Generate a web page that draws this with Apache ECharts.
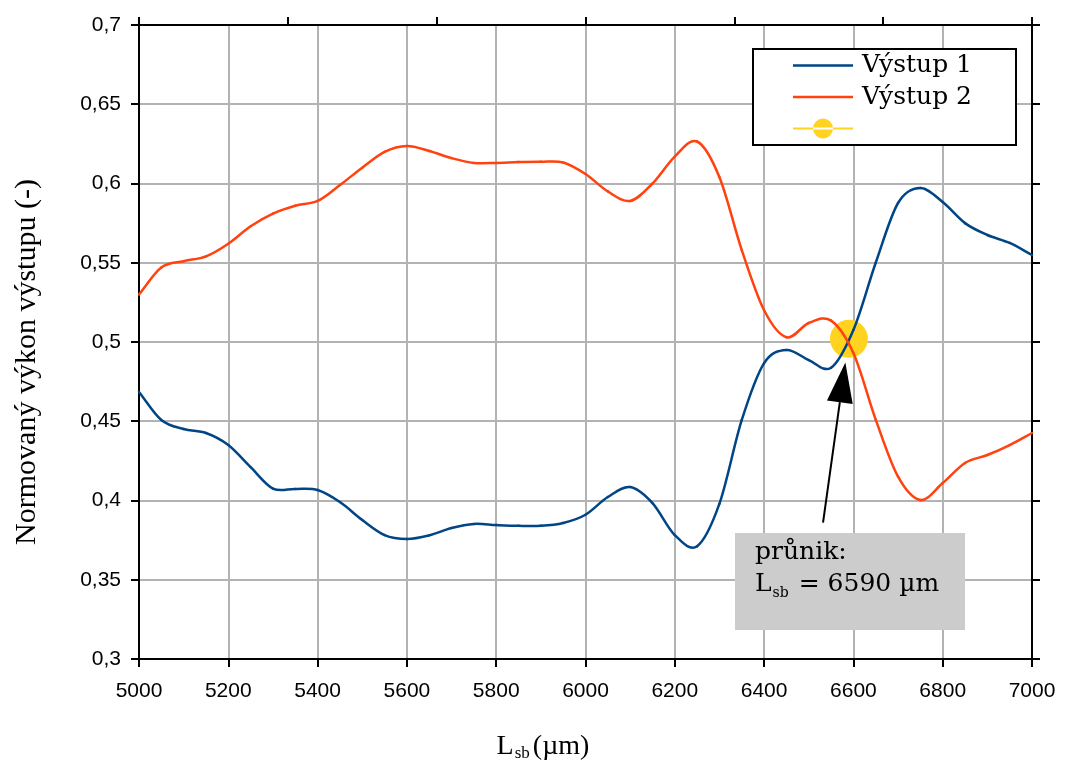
<!DOCTYPE html>
<html>
<head>
<meta charset="utf-8">
<script src="https://cdn.jsdelivr.net/npm/echarts@6/dist/echarts.min.js"></script>
<style>html,body{margin:0;padding:0;background:#fff}#c{width:1065px;height:767px}</style>
</head>
<body>
<div id="c"></div>
<script>
// ---- data ----
const seriesNames = ['Výstup 1', 'Výstup 2', ' '];
const xValues = [5000,5050,5100,5150,5200,5250,5300,5350,5400,5450,5500,5550,5600,5650,5700,5750,5800,5850,5900,5950,6000,6050,6100,6150,6200,6250,6300,6350,6400,6450,6500,6550,6600,6650,6700,6750,6800,6850,6900,6950,7000];
const vystup1 = [0.4685,0.4508,0.4451,0.4426,0.435,0.421,0.4075,0.4073,0.4066,0.399,0.3877,0.3782,0.3757,0.378,0.3826,0.3852,0.3845,0.384,0.384,0.3858,0.391,0.4022,0.4085,0.3984,0.3782,0.3712,0.398,0.4508,0.4867,0.495,0.4886,0.4838,0.5076,0.55,0.5877,0.5972,0.5883,0.575,0.5675,0.5625,0.5549];
const vystup2 = [0.530,0.547,0.551,0.554,0.562,0.573,0.581,0.586,0.589,0.599,0.610,0.620,0.6237,0.6205,0.616,0.613,0.613,0.6135,0.6137,0.6133,0.606,0.595,0.589,0.600,0.617,0.6265,0.604,0.558,0.520,0.503,0.512,0.5135,0.493,0.451,0.415,0.4003,0.411,0.4237,0.4287,0.435,0.4426];
const intersection = [6590, 0.502];
const arrowFrom = [6532, 0.386];
const arrowTo = [6582, 0.487];
const xTicks = {min: 5000, max: 7000, interval: 200};
const yTicks = {min: 0.3, max: 0.7, interval: 0.05};

const chart = echarts.init(document.getElementById('c'), null, {renderer: 'canvas'});
const zip = (xs, ys) => xs.map((x, i) => [x, ys[i]]);
const axisLine = {show: true, onZero: false, lineStyle: {color: '#000', width: 2}};
const tick = (inside) => ({show: true, inside: inside, length: 8, lineStyle: {color: '#000', width: 2}});
// legend icons: horizontal line (bounding box padded to 60x24), and line with circle
const lineIcon = 'path://M0,0 L0.01,0 L0,0 Z M0,10.75 L60,10.75 L60,13.25 L0,13.25 Z M0,24 L0.01,24 L0,24 Z';
const dotIcon = 'path://M0,0 L0.01,0 L0,0 Z M0,11 L60,11 L60,13 L0,13 Z M20,12 A10,10 0 1,0 40,12 A10,10 0 1,0 20,12 Z M0,24 L0.01,24 L0,24 Z';

// smooth curve through the data points (cubic spline segments drawn via axis coordinates)
function splineSeries(name, xs, ys, color) {
  const n = xs.length;
  return {
    name: name, type: 'custom', coordinateSystem: 'cartesian2d',
    data: zip(xs, ys), encode: {x: 0, y: 1},
    itemStyle: {color: color}, z: 3,
    renderItem: function (params, api) {
      const i = params.dataIndex;
      if (i >= n - 1) return null;
      const P = k => api.coord([xs[k], ys[k]]);
      const p1 = P(i), p2 = P(i + 1);
      const p0 = i > 0 ? P(i - 1) : [2 * p1[0] - p2[0], 2 * p1[1] - p2[1]];
      const p3 = i + 2 < n ? P(i + 2) : [2 * p2[0] - p1[0], 2 * p2[1] - p1[1]];
      return {
        type: 'bezierCurve',
        shape: {
          x1: p1[0], y1: p1[1], x2: p2[0], y2: p2[1],
          cpx1: p1[0] + (p2[0] - p0[0]) / 6, cpy1: p1[1] + (p2[1] - p0[1]) / 6,
          cpx2: p2[0] - (p3[0] - p1[0]) / 6, cpy2: p2[1] - (p3[1] - p1[1]) / 6
        },
        style: {stroke: color, lineWidth: 2.5, fill: 'none', lineCap: 'round'}
      };
    }
  };
}

chart.setOption({
  animation: false,
  grid: {left: 139, right: 33, top: 25, bottom: 108, containLabel: false, outerBoundsMode: 'none'},
  legend: {
    orient: 'vertical', left: 753, top: 49,
    data: [
      {name: seriesNames[0], icon: lineIcon},
      {name: seriesNames[1], icon: lineIcon},
      {name: seriesNames[2], icon: dotIcon}
    ],
    itemWidth: 60, itemHeight: 24, itemGap: 6.5,
    padding: [4, 44, 4, 40],
    borderColor: '#000', borderWidth: 2, backgroundColor: '#fff',
    textStyle: {fontFamily: 'DejaVu Serif', fontSize: 25, color: '#000', padding: [0,0,0,4]}
  },
  xAxis: [{
    type: 'value', min: xTicks.min, max: xTicks.max, interval: xTicks.interval,
    position: 'bottom',
    axisLine: axisLine, axisTick: tick(false),
    axisLabel: {fontFamily: 'Liberation Sans', fontSize: 21, color: '#000', margin: 22, formatter: v => String(v)},
    splitLine: {show: true, lineStyle: {color: '#b3b3b3', width: 2}},
    name: '{a|L}{s|sb}{a|(µm)}', nameLocation: 'middle', nameGap: 72,
    nameTextStyle: {fontFamily: 'Liberation Serif', fontSize: 28, color: '#000', padding: [0, 85, 0, 0], rich: {
      a: {fontFamily: 'Liberation Serif', fontSize: 28, color: '#000'},
      s: {fontFamily: 'Liberation Serif', fontSize: 17, color: '#000', verticalAlign: 'bottom', padding: [14,3,0,1]}
    }}
  }, {
    type: 'value', min: 0, max: 6, interval: 1, position: 'top',
    axisLine: axisLine, axisTick: tick(false), axisLabel: {show: false}, splitLine: {show: false}
  }],
  yAxis: [{
    type: 'value', min: yTicks.min, max: yTicks.max, interval: yTicks.interval,
    position: 'left',
    axisLine: axisLine, axisTick: tick(false),
    axisLabel: {fontFamily: 'Liberation Sans', fontSize: 21, color: '#000', margin: 18,
      formatter: v => String(+v.toFixed(2)).replace('.', ',')},
    splitLine: {show: true, lineStyle: {color: '#b3b3b3', width: 2}},
    name: 'Normovaný výkon výstupu (-)', nameLocation: 'middle', nameGap: 97, nameRotate: 90,
    nameTextStyle: {fontFamily: 'Liberation Serif', fontSize: 30, color: '#000', padding: [0, 40, 0, 0]}
  }, {
    type: 'value', min: yTicks.min, max: yTicks.max, interval: yTicks.interval, position: 'right',
    axisLine: axisLine, axisTick: tick(false), axisLabel: {show: false}, splitLine: {show: false}
  }],
  series: [
    splineSeries(seriesNames[0], xValues, vystup1, '#004586'),
    splineSeries(seriesNames[1], xValues, vystup2, '#ff420e'),
    {
      name: seriesNames[2], type: 'line', symbol: 'circle', symbolSize: 38, showSymbol: true,
      data: [intersection], lineStyle: {color: '#ffd320', width: 2}, itemStyle: {color: '#ffd320'}, z: 2
    }
  ]
});

// annotation: arrow and text box, anchored to data coordinates
const p0 = chart.convertToPixel({xAxisIndex: 0, yAxisIndex: 0}, arrowFrom);
const p1 = chart.convertToPixel({xAxisIndex: 0, yAxisIndex: 0}, arrowTo);
const dx = p1[0] - p0[0], dy = p1[1] - p0[1];
const len = Math.sqrt(dx*dx + dy*dy);
const ux = dx/len, uy = dy/len, nx = -uy, ny = ux;
const headL = 40, headW = 13;
const bx = p1[0] - ux*headL, by = p1[1] - uy*headL;
chart.setOption({
  graphic: [
    {type: 'line', shape: {x1: p0[0], y1: p0[1], x2: bx, y2: by}, style: {stroke: '#000', lineWidth: 2}, z: 10},
    {type: 'polygon', shape: {points: [[p1[0], p1[1]], [bx + nx*headW, by + ny*headW], [bx - nx*headW, by - ny*headW]]}, style: {fill: '#000'}, z: 10},
    {type: 'rect', shape: {x: 735, y: 533, width: 230, height: 97}, style: {fill: '#cccccc'}, z: 10},
    {type: 'text', left: 755, top: 540, z: 11, style: {
      text: '{a|průnik:}\n{a|L}{s|sb}{a| = 6590 µm}',
      fontFamily: 'DejaVu Serif', fontSize: 25, fill: '#000',
      rich: {
        a: {fontFamily: 'DejaVu Serif', fontSize: 25, fill: '#000', lineHeight: 32},
        s: {fontFamily: 'DejaVu Serif', fontSize: 14, fill: '#000', verticalAlign: 'bottom', padding: [16,2,0,1], lineHeight: 32}
      }
    }}
  ]
});
</script>
</body>
</html>
